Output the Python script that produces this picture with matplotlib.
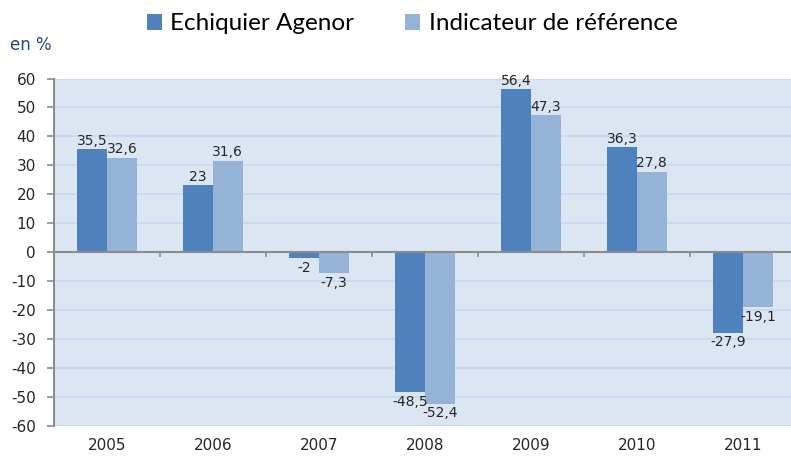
import matplotlib
matplotlib.use("Agg")
import matplotlib.pyplot as plt
from matplotlib.patches import Patch
import numpy as np

plt.rcParams["font.family"] = ["DejaVu Sans"]
plt.rcParams["font.stretch"] = "normal"

years = ["2005", "2006", "2007", "2008", "2009", "2010", "2011"]
agenor = [35.5, 23, -2, -48.5, 56.4, 36.3, -27.9]
reference = [32.6, 31.6, -7.3, -52.4, 47.3, 27.8, -19.1]
series_names = ["Echiquier Agenor", "Indicateur de référence"]
yticks = list(range(-60, 61, 10))

c_dark = "#4F81BD"
c_light = "#95B3D7"
bg = "#DCE6F2"
grid_c = "#C6D9F1"
spine_c = "#8C8C8C"
text_c = "#262626"

fig = plt.figure(figsize=(7.91, 4.57), dpi=100)
ax = fig.add_axes([54/791, 31.5/457, 742/791, 347/457])
ax.set_facecolor(bg)

x = np.arange(len(years))
w = 0.28
b1 = ax.bar(x - w/2, agenor, w, color=c_dark, zorder=3)
b2 = ax.bar(x + w/2, reference, w, color=c_light, zorder=3)

def fmt(v):
    return ("%g" % v).replace(".", ",")

for bars, vals in ((b1, agenor), (b2, reference)):
    for rect, v in zip(bars, vals):
        cx = rect.get_x() + rect.get_width()/2
        if v >= 0:
            ax.annotate(fmt(v), (cx, v), xytext=(0, 1), textcoords="offset points",
                        ha="center", va="bottom", fontsize=10, color=text_c, zorder=4)
        else:
            ax.annotate(fmt(v), (cx, v), xytext=(0, -2), textcoords="offset points",
                        ha="center", va="top", fontsize=10, color=text_c, zorder=4)

ax.set_xlim(-0.5, len(years) - 0.5)
ax.set_ylim(-60, 60)
ax.set_yticks(yticks)
ax.set_yticklabels([str(t) for t in yticks], fontsize=11, color=text_c)
ax.set_xticks(x)
ax.set_xticklabels(years, fontsize=11, color=text_c)
ax.tick_params(axis="x", length=0, pad=9)
ax.tick_params(axis="y", length=5, width=1.2, color=spine_c, pad=8)

for t in yticks:
    if t != 0:
        ax.axhline(t, color=grid_c, lw=1.3, zorder=1)
ax.axhline(0, color=spine_c, lw=1.5, zorder=4)
ax.vlines(x[:-1] + 0.5, -1.8, 0, color=spine_c, lw=1.2, zorder=4)

for s in ("top", "right", "bottom"):
    ax.spines[s].set_visible(False)
ax.spines["left"].set_color(spine_c)
ax.spines["left"].set_linewidth(1.5)

fig.text(10/791, 1 - 45/457, "en %", fontsize=12, color="#1F497D", va="center", ha="left")

handles = [Patch(facecolor=c_dark, edgecolor="none"), Patch(facecolor=c_light, edgecolor="none")]
fig.legend(handles, series_names, loc="center", bbox_to_anchor=(412/791, 1 - 24/457),
           ncol=2, frameon=False, handlelength=0.62, handleheight=0.62,
           handletextpad=0.35, columnspacing=2.1, prop={"family": "Lato", "size": 17.5})

fig.savefig("out.png", dpi=100, facecolor="white")
